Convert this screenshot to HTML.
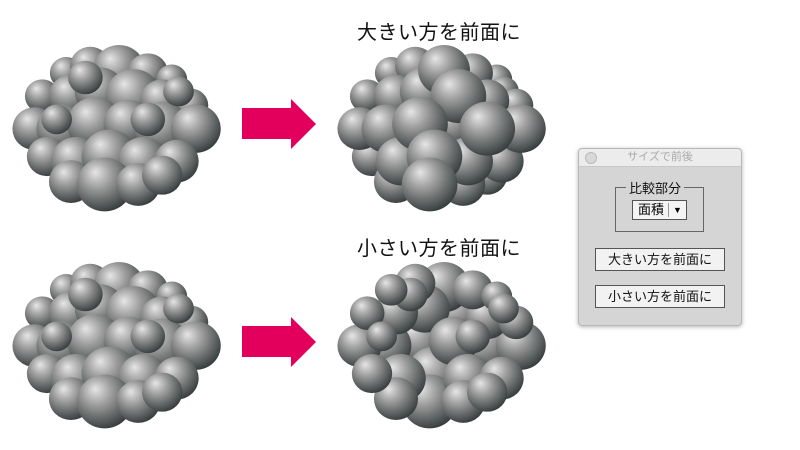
<!DOCTYPE html>
<html><head><meta charset="utf-8"><style>
body{margin:0;width:800px;height:450px;background:#fff;overflow:hidden;position:relative;font-family:"Liberation Sans","Noto Sans CJK JP",sans-serif}
.t{position:absolute;font-size:20px;color:#111;left:357px;letter-spacing:0.5px}
.dlg{position:absolute;left:578px;top:148px;width:162px;height:176px;background:#d5d5d5;border:1px solid #b8b8b8;border-radius:4px;box-shadow:0 1px 4px rgba(0,0,0,.3);overflow:hidden}
.tb{height:17px;background:#ececec;border-bottom:1px solid #c8c8c8;font-size:11px;color:#aaa;text-align:center;line-height:17px;position:relative}
.dot{position:absolute;left:6px;top:3px;width:10px;height:10px;border-radius:50%;background:#d8d8d8;border:1px solid #bbb}
.fs{position:absolute;left:36px;top:38px;width:87px;height:43px;border:1px solid #666}
.lg{position:absolute;left:47px;top:29px;background:#d5d5d5;padding:0 3px;font-size:13px;color:#111}
.sel{position:absolute;left:53px;top:51px;width:53px;height:18px;border:1px solid #555;background:#f4f4f4;font-size:13px;line-height:18px}
.btn{position:absolute;left:16px;width:128px;height:21px;border:1px solid #555;background:#f2f2f2;font-size:13px;text-align:center;line-height:21px;color:#111}
</style></head><body>
<svg width="800" height="450" style="position:absolute;left:0;top:0">
<defs>
<radialGradient id="g" cx="0.4" cy="0.35" r="0.68" fx="0.33" fy="0.27">
<stop offset="0" stop-color="#e6e6e6"/><stop offset="0.4" stop-color="#9c9c9c"/><stop offset="1" stop-color="#353b3b"/>
</radialGradient>
<g id="rnd" fill="url(#g)">
<circle cx="-55" cy="-55" r="17"/><circle cx="-30" cy="-62" r="21"/><circle cx="0" cy="-58" r="27"/><circle cx="30" cy="-55" r="21"/><circle cx="55" cy="-48" r="16"/>
<circle cx="-80" cy="-30" r="18"/><circle cx="-50" cy="-30" r="23"/><circle cx="-20" cy="-35" r="26"/><circle cx="15" cy="-30" r="29"/><circle cx="45" cy="-25" r="23"/><circle cx="75" cy="-20" r="18"/>
<circle cx="-88" cy="5" r="23"/><circle cx="-60" cy="5" r="26"/><circle cx="-25" cy="0" r="29"/><circle cx="10" cy="0" r="26"/><circle cx="45" cy="5" r="29"/><circle cx="80" cy="5" r="26"/>
<circle cx="-75" cy="35" r="21"/><circle cx="-45" cy="40" r="26"/><circle cx="-10" cy="35" r="29"/><circle cx="25" cy="40" r="26"/><circle cx="60" cy="40" r="23"/>
<circle cx="-50" cy="62" r="23"/><circle cx="-15" cy="65" r="29"/><circle cx="20" cy="65" r="23"/><circle cx="45" cy="55" r="21"/>
<circle cx="-65" cy="-5" r="16"/><circle cx="30" cy="-5" r="18"/><circle cx="-35" cy="-50" r="18"/><circle cx="62" cy="-35" r="16"/>
</g>
<g id="asc" fill="url(#g)">
<circle cx="55" cy="-48" r="16"/><circle cx="-65" cy="-5" r="16"/><circle cx="62" cy="-35" r="16"/><circle cx="-55" cy="-55" r="17"/>
<circle cx="-80" cy="-30" r="18"/><circle cx="75" cy="-20" r="18"/><circle cx="30" cy="-5" r="18"/><circle cx="-35" cy="-50" r="18"/>
<circle cx="-30" cy="-62" r="21"/><circle cx="30" cy="-55" r="21"/><circle cx="-75" cy="35" r="21"/><circle cx="45" cy="55" r="21"/>
<circle cx="-50" cy="-30" r="23"/><circle cx="45" cy="-25" r="23"/><circle cx="-88" cy="5" r="23"/><circle cx="60" cy="40" r="23"/><circle cx="-50" cy="62" r="23"/><circle cx="20" cy="65" r="23"/>
<circle cx="-20" cy="-35" r="26"/><circle cx="10" cy="0" r="26"/><circle cx="80" cy="5" r="26"/><circle cx="-60" cy="5" r="26"/><circle cx="-45" cy="40" r="26"/><circle cx="25" cy="40" r="26"/>
<circle cx="0" cy="-58" r="27"/>
<circle cx="15" cy="-30" r="29"/><circle cx="-25" cy="0" r="29"/><circle cx="45" cy="5" r="29"/><circle cx="-10" cy="35" r="29"/><circle cx="-15" cy="65" r="29"/>
</g>
<g id="desc" fill="url(#g)">
<circle cx="15" cy="-30" r="29"/><circle cx="-25" cy="0" r="29"/><circle cx="45" cy="5" r="29"/><circle cx="-10" cy="35" r="29"/><circle cx="-15" cy="65" r="29"/>
<circle cx="0" cy="-58" r="27"/>
<circle cx="-20" cy="-35" r="26"/><circle cx="10" cy="0" r="26"/><circle cx="80" cy="5" r="26"/><circle cx="-60" cy="5" r="26"/><circle cx="-45" cy="40" r="26"/><circle cx="25" cy="40" r="26"/>
<circle cx="-50" cy="-30" r="23"/><circle cx="45" cy="-25" r="23"/><circle cx="-88" cy="5" r="23"/><circle cx="60" cy="40" r="23"/><circle cx="-50" cy="62" r="23"/><circle cx="20" cy="65" r="23"/>
<circle cx="-30" cy="-62" r="21"/><circle cx="30" cy="-55" r="21"/><circle cx="-75" cy="35" r="21"/><circle cx="45" cy="55" r="21"/>
<circle cx="-80" cy="-30" r="18"/><circle cx="75" cy="-20" r="18"/><circle cx="30" cy="-5" r="18"/><circle cx="-35" cy="-50" r="18"/>
<circle cx="-55" cy="-55" r="17"/>
<circle cx="55" cy="-48" r="16"/><circle cx="-65" cy="-5" r="16"/><circle cx="62" cy="-35" r="16"/>
</g>
</defs>
<use href="#rnd" transform="translate(119 124) scale(0.96 0.93)"/>
<use href="#asc" transform="translate(444 124) scale(0.96 0.93)"/>
<use href="#rnd" transform="translate(119 341) scale(0.96 0.93)"/>
<use href="#desc" transform="translate(444 341) scale(0.96 0.93)"/>
<polygon points="242,108 291,108 291,99 316,124 291,149 291,139 242,139" fill="#e2005c"/>
<polygon points="242,326 291,326 291,317 316,342 291,367 291,357 242,357" fill="#e2005c"/>
</svg>
<div class="t" style="top:16px">大きい方を前面に</div>
<div class="t" style="top:232px">小さい方を前面に</div>
<div class="dlg">
<div class="tb"><div class="dot"></div>サイズで前後</div>
<div class="fs"></div>
<div class="lg">比較部分</div>
<div class="sel"><span style="margin-left:5px">面積</span><span style="position:absolute;left:35px;top:2px;height:14px;border-left:1px solid #999"></span><span style="position:absolute;left:40px;top:0;font-size:9px">▼</span></div>
<div class="btn" style="top:99px">大きい方を前面に</div>
<div class="btn" style="top:136px">小さい方を前面に</div>
</div>
</body></html>
